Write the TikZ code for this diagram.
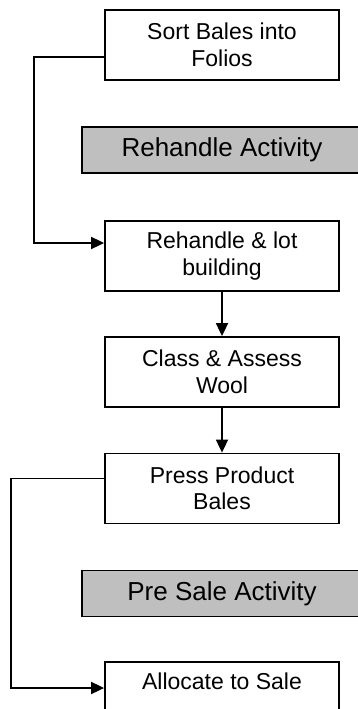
\documentclass[tikz,border=0pt]{standalone}
\usepackage{fontspec}
\setmainfont{Liberation Sans}
\usetikzlibrary{arrows.meta,positioning}

\begin{document}
\begin{tikzpicture}[x=1pt,y=-1pt]
	\tikzstyle{every node} = [draw,shape=rectangle,line width=1.8pt,fill=white,inner sep=0pt]
	\tikzstyle{stepbox} = [minimum width=234pt,minimum height=70pt,align=center,font=\fontsize{23}{26.5}\selectfont]
	\tikzstyle{phase} = [fill=black!25,minimum width=280pt,minimum height=46pt,font=\fontsize{26}{30}\selectfont]
	\tikzstyle{flow} = [line width=1.8pt,-{Triangle[length=13pt,width=12pt]}]
	\useasboundingbox (0,0) rectangle (358,709);

	\node[stepbox] (sort) at (222,45) {Sort Bales into\\Folios};
	\node[phase] (rehandle) at (222,150) {Rehandle Activity};
	\node[stepbox] (lot) at (222,256) {Rehandle \& lot\\building};
	\node[stepbox] (class) at (222,372) {Class \& Assess\\Wool};
	\node[stepbox] (press) at (222,488.5) {Press Product\\Bales};
	\node[phase] (presale) at (222,593.5) {Pre Sale Activity};
	\node[stepbox,text depth=32pt] (alloc) at (222,697) {Allocate to Sale};

	% loops round the shaded activity bars
	\draw[flow] ([yshift=-12pt]sort.west) -- ++(-70,0) |- ([yshift=13pt]lot.west);
	\draw[flow] ([yshift=10pt]press.west) -- ++(-93,0) |- ([yshift=9pt]alloc.west);

	% straight steps down the column
	\draw[flow] (lot) -- (class);
	\draw[flow] (class) -- (press);
\end{tikzpicture}
\end{document}
